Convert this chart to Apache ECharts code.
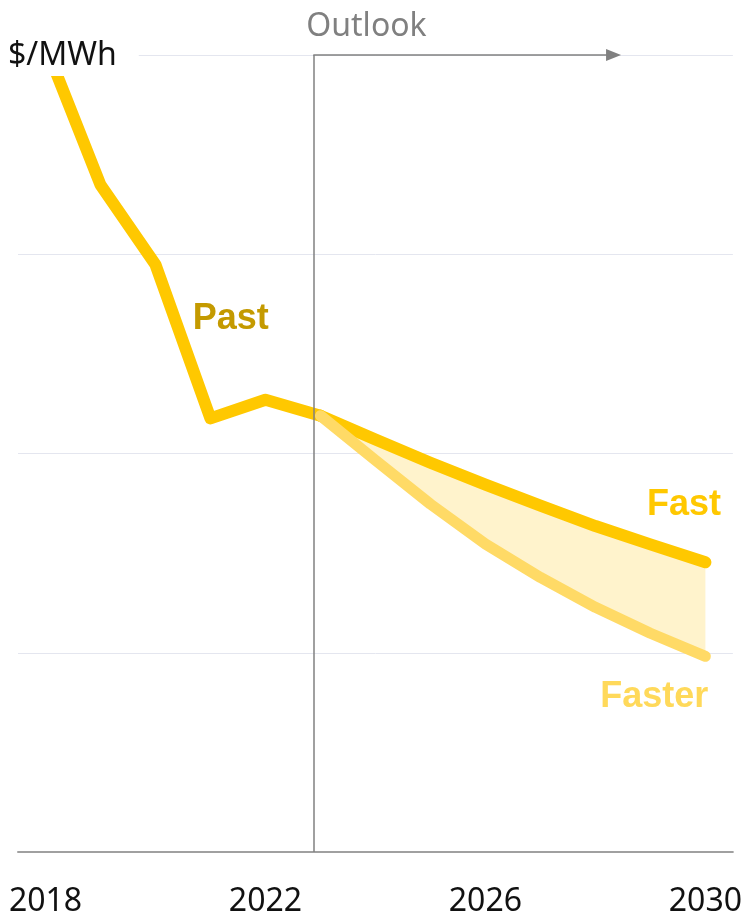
<!DOCTYPE html>
<html>
<head>
<meta charset="utf-8">
<script src="https://cdn.jsdelivr.net/npm/echarts@6/dist/echarts.min.js"></script>
<style>html,body{margin:0;padding:0;background:#fff}#c{width:745px;height:918px}</style>
</head>
<body>
<div id="c"></div>
<script>
// ---- data ----
const pastYears = [2018, 2019, 2020, 2021, 2022, 2023];
const pastValues = [202.3, 167.4, 147.4, 108.8, 113.5, 109.5];
const outlookYears = [2023, 2024, 2025, 2026, 2027, 2028, 2029, 2030];
const fastValues = [109.5, 103.5, 97.7, 92.2, 86.9, 81.8, 77.2, 72.7];
const fasterValues = [109.5, 98.3, 87.3, 77.3, 68.9, 61.4, 54.9, 49.1];
const xTickLabels = [2018, 2022, 2026, 2030];
const unitLabel = '$/MWh';
const outlookLabel = 'Outlook';
const outlookStart = 2022.87;
const outlookArrowEnd = 2028.33;

const pair = (xs, ys) => xs.map((x, i) => [x, ys[i]]);

const FONT = 'Noto Sans';
const chart = echarts.init(document.getElementById('c'), null, {renderer: 'canvas'});
chart.setOption({
  animation: false,
  title: {
    text: unitLabel, left: 0, top: 34,
    backgroundColor: '#fff',
    padding: [6, 22, 4, 8],
    textStyle: {fontFamily: FONT, fontSize: 32, fontWeight: 'normal', color: '#111'}
  },
  grid: {left: 18, right: 11, top: 55, bottom: 65, containLabel: false},
  xAxis: {
    type: 'value', min: 2017.5, max: 2030.5,
    axisLine: {show: true, onZero: false, lineStyle: {color: '#a0a0a0', width: 2}},
    axisTick: {show: false},
    splitLine: {show: false},
    axisLabel: {
      customValues: xTickLabels, margin: 34,
      fontFamily: FONT, fontSize: 32, color: '#111',
      formatter: v => String(v)
    }
  },
  yAxis: {
    type: 'value', min: 0, max: 200, interval: 50,
    axisLine: {show: false}, axisTick: {show: false},
    axisLabel: {show: false},
    splitLine: {show: true, lineStyle: {color: '#E4E6EF', width: 1}}
  },
  series: [
    {
      name: 'band', type: 'custom', silent: true, z: 1,
      data: [0],
      renderItem: function (params, api) {
        const top = outlookYears.map((y, i) => api.coord([y, fastValues[i]]));
        const bottom = outlookYears.map((y, i) => api.coord([y, fasterValues[i]])).reverse();
        return {
          type: 'polygon',
          shape: {points: top.concat(bottom)},
          style: {fill: '#FFF3CC', stroke: 'none'}
        };
      }
    },
    {
      name: 'Past', type: 'line', clip: false, z: 2,
      data: pair(pastYears, pastValues), symbol: 'none',
      lineStyle: {color: '#FFC800', width: 12, cap: 'round', join: 'round'},
      markPoint: {
        symbol: 'circle', symbolSize: 0,
        label: {show: true, position: 'inside', fontFamily: 'Liberation Sans', fontWeight: 'bold', fontSize: 36},
        data: [
          {coord: [2021.37, 133.8], value: 'Past', label: {formatter: 'Past', color: '#C49A00'}},
          {coord: [2029.61, 87.0], value: 'Fast', label: {formatter: 'Fast', color: '#FFC800'}},
          {coord: [2029.07, 39.0], value: 'Faster', label: {formatter: 'Faster', color: '#FFD95A'}}
        ]
      }
    },
    {
      name: 'Fast', type: 'line', z: 2,
      data: pair(outlookYears, fastValues), symbol: 'none',
      lineStyle: {color: '#FFC800', width: 12, cap: 'round', join: 'round'}
    },
    {
      name: 'Faster', type: 'line', z: 2,
      data: pair(outlookYears, fasterValues), symbol: 'none',
      lineStyle: {color: '#FFDA66', width: 11, cap: 'round', join: 'round'},
      markLine: {
        silent: true, animation: false,
        symbol: ['none', 'none'],
        lineStyle: {color: '#808080', width: 1.5, type: 'solid'},
        label: {show: false},
        data: [
          [{coord: [outlookStart, 0]}, {coord: [outlookStart, 200]}],
          [
            {coord: [outlookStart, 200], symbol: 'none',
             label: {show: true, position: 'insideStartTop', formatter: outlookLabel, distance: [-7, 12],
                     fontFamily: FONT, fontSize: 32, color: '#808080'}},
            {coord: [outlookArrowEnd, 200], symbol: 'triangle', symbolSize: [12, 15], symbolRotate: -90}
          ]
        ]
      }
    }
  ]
});
</script>
</body>
</html>
